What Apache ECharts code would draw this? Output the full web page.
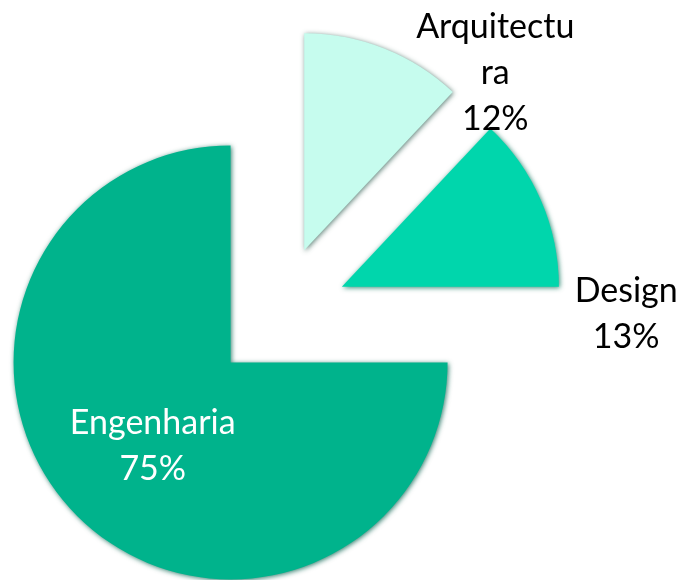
<!DOCTYPE html>
<html>
<head>
<meta charset="utf-8">
<title>Pie</title>
<script src="https://cdn.jsdelivr.net/npm/echarts@6/dist/echarts.min.js"></script>
<style>
html, body { margin: 0; padding: 0; background: #fff; }
#chart { width: 683px; height: 580px; }
</style>
</head>
<body>
<div id="chart"></div>
<script>
// dados
var categories = ['Arquitectura', 'Design', 'Engenharia'];
var labelNames = ['Arquitectu\nra', 'Design', 'Engenharia'];
var values = [12, 13, 75];
var colors = ['#C6FCEE', '#00D6AC', '#00B38C'];
var edgeColors = ['rgba(70,110,100,0.85)', 'rgba(0,110,85,0.8)', 'rgba(0,95,75,0.8)'];
var labelColors = ['#000', '#000', '#fff'];
// deslocamento dos rotulos a partir da posicao interna
var labelShift = [[150, -74], [182, 72], [1, 5]];

var chart = echarts.init(document.getElementById('chart'));

var data = categories.map(function (name, i) {
	var style = {
		color: colors[i],
		shadowBlur: 5,
		shadowColor: edgeColors[i],
		shadowOffsetX: 1,
		shadowOffsetY: 1
	};
	return {
		name: name,
		value: values[i],
		selected: true,
		itemStyle: style,
		select: { itemStyle: style },
		label: {
			color: labelColors[i],
			formatter: labelNames[i] + '\n{d}%'
		}
	};
});

chart.setOption({
	animation: false,
	series: [
		{
			type: 'pie',
			center: [279, 314],
			radius: 217,
			startAngle: 90,
			clockwise: true,
			selectedMode: 'multiple',
			selectedOffset: 68.5,
			avoidLabelOverlap: false,
			percentPrecision: 0,
			label: {
				show: true,
				position: 'inside',
				fontFamily: 'Lato',
				fontSize: 34,
				lineHeight: 46,
				align: 'center'
			},
			labelLine: { show: false },
			emphasis: { disabled: true },
			labelLayout: function (params) {
				var s = labelShift[params.dataIndex];
				return { dx: s[0], dy: s[1] };
			},
			data: data
		}
	]
});
</script>
</body>
</html>
